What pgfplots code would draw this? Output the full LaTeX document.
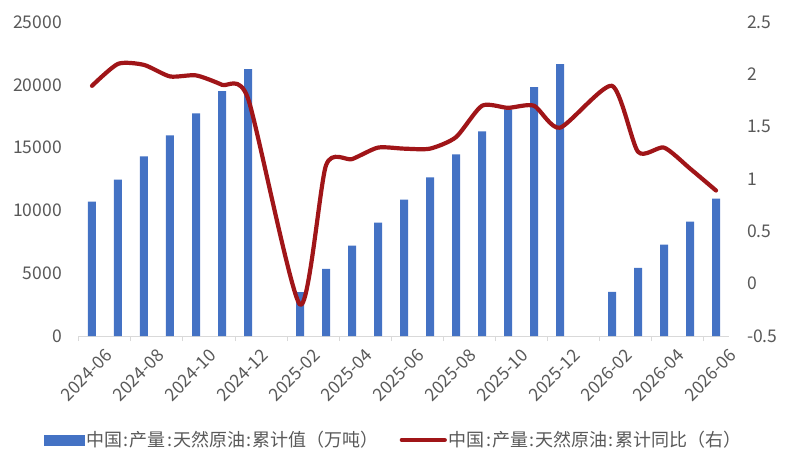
\documentclass[border=0pt]{standalone}
\usepackage{pgfplots}
\pgfplotsset{compat=1.18}
\usepackage{pgfplotstable}
\usepackage{fontspec}
\setmainfont{Noto Sans CJK SC}
\definecolor{barblue}{HTML}{4472C4}
\definecolor{linered}{HTML}{A01518}
\definecolor{txtgray}{HTML}{595959}
\definecolor{axgray}{HTML}{D9D9D9}
\newcommand\cc{\kern1.2bp:\kern1.2bp}

\pgfplotstableread{
x y
0 10700
1 12460
2 14300
3 15970
4 17730
5 19490
6 21250
8 3490
9 5350
10 7190
11 9025
12 10860
13 12620
14 14460
15 16290
16 18050
17 19810
18 21650
20 3515
21 5430
22 7270
23 9105
24 10940
}\bardata

\pgfplotstableread{
x y
0 1.89
1 2.10
2 2.09
3 1.98
4 1.99
5 1.90
6 1.77
8 -0.20
9 1.13
10 1.19
11 1.30
12 1.29
13 1.29
14 1.40
15 1.70
16 1.68
17 1.70
18 1.49
20 1.89
21 1.26
22 1.30
23 1.10
24 0.89
}\linedata

\begin{document}
\begin{tikzpicture}
\path[use as bounding box] (-79bp,-134bp) rectangle (710bp,336bp);
\begin{axis}[
  scale only axis, width=650bp, height=314bp,
  xmin=-0.5, xmax=24.5, ymin=0, ymax=25000,
  axis x line*=bottom, axis y line*=left,
  x axis line style={draw=axgray, line width=1bp, -},
  y axis line style={draw=none},
  xtick={0,2,...,24},
  xticklabels={2024-06,2024-08,2024-10,2024-12,2025-02,2025-04,2025-06,2025-08,2025-10,2025-12,2026-02,2026-04,2026-06},
  major tick length=0pt,
  extra x ticks={-0.5,1.5,...,23.5},
  extra x tick labels={},
  extra x tick style={major tick length=5bp, tick align=outside, tick style={draw=axgray, line width=1bp}},
  ytick={0,5000,...,25000},
  scaled y ticks=false,
  /pgf/number format/assume math mode=true,
  /pgf/number format/1000 sep={},
  tick label style={font=\fontsize{17.5bp}{20bp}\selectfont, text=txtgray},
  xticklabel style={rotate=45, anchor=north east, inner sep=0pt, xshift=1bp, yshift=-17bp},
  yticklabel style={anchor=east, inner sep=0pt, xshift=-17bp},
]
\addplot[ybar, bar width=8bp, fill=barblue, draw=none] table[x=x,y=y] {\bardata};
\end{axis}
\begin{axis}[
  scale only axis, width=650bp, height=314bp,
  xmin=-0.5, xmax=24.5, ymin=-0.5, ymax=2.5,
  axis y line*=right, axis x line=none,
  y axis line style={draw=none},
  major tick length=0pt,
  ytick={-0.5,0,0.5,1,1.5,2,2.5},
  /pgf/number format/assume math mode=true,
  tick label style={font=\fontsize{17.5bp}{20bp}\selectfont, text=txtgray},
  yticklabel style={anchor=west, inner sep=0pt, xshift=18bp},
  legend style={at={(0.484,-0.331)}, anchor=center, draw=none, fill=none,
    legend columns=2, font=\fontsize{18bp}{21bp}\selectfont, text=txtgray,
    /tikz/every even column/.append style={column sep=19bp}},
  legend cell align=left,
]
\addlegendimage{legend image code/.code={\fill[barblue] (0bp,-5bp) rectangle (40bp,5bp);}}
\addlegendentry{中国\cc 产量\cc 天然原油\cc 累计值（万吨）}
\addplot[linered, line width=4.2bp, smooth, tension=0.4, line cap=round, line join=round,
  legend image code/.code={\draw[linered, line width=4.2bp, line cap=round] (0bp,0bp) -- (43bp,0bp);}]
  table[x=x,y=y] {\linedata};
\addlegendentry{中国\cc 产量\cc 天然原油\cc 累计同比（右）}
\end{axis}
\end{tikzpicture}
\end{document}
